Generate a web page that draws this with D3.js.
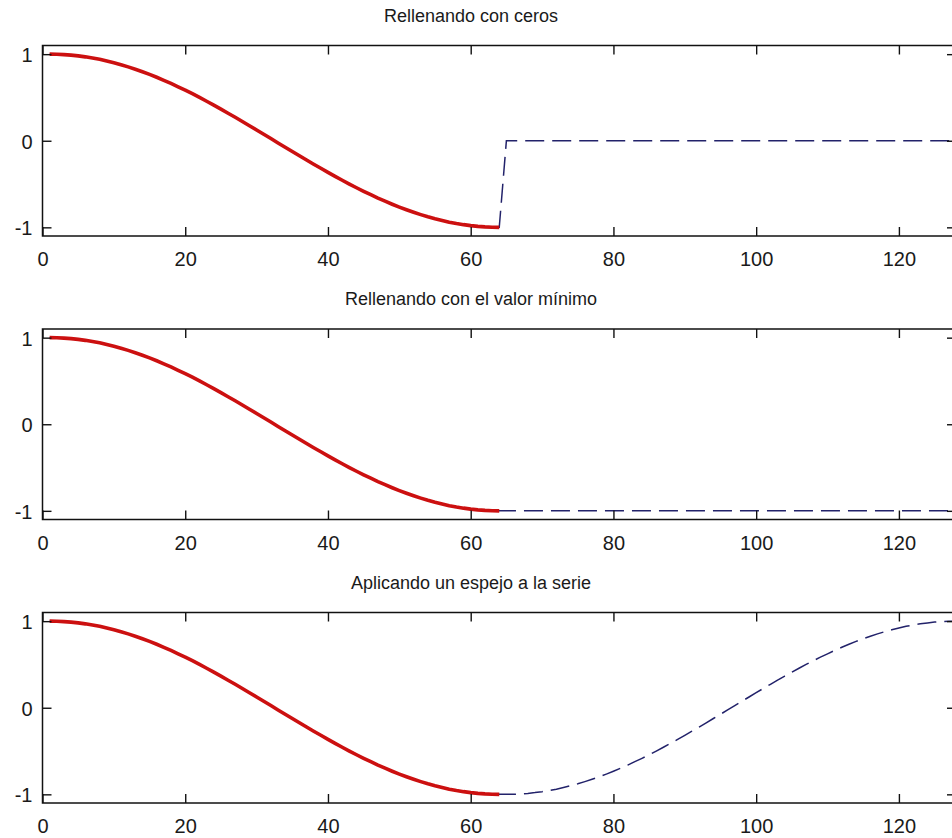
<!DOCTYPE html>
<html>
<head>
<meta charset="utf-8">
<script src="https://cdn.jsdelivr.net/npm/d3@7"></script>
<style>
  html, body { margin: 0; padding: 0; background: #fff; }
  svg { display: block; }
  .tick text { font-family: "Liberation Sans", Arial, sans-serif; font-size: 20px; fill: #1a1a1a; }
  .title { font-family: "Liberation Sans", Arial, sans-serif; font-size: 18px; fill: #1a1a1a; }
</style>
</head>
<body>
<svg id="chart" width="952" height="838"></svg>
<script>
// Original half-period cosine signal (64 samples)
const signal = [
  1.000, 0.999, 0.995, 0.989, 0.980, 0.969, 0.956, 0.940,
  0.921, 0.901, 0.878, 0.853, 0.826, 0.797, 0.766, 0.733,
  0.698, 0.662, 0.623, 0.584, 0.543, 0.500, 0.456, 0.411,
  0.365, 0.318, 0.271, 0.223, 0.174, 0.124, 0.075, 0.025,
  -0.025, -0.075, -0.124, -0.174, -0.223, -0.271, -0.318, -0.365,
  -0.411, -0.456, -0.500, -0.543, -0.584, -0.623, -0.662, -0.698,
  -0.733, -0.766, -0.797, -0.826, -0.853, -0.878, -0.901, -0.921,
  -0.940, -0.956, -0.969, -0.980, -0.989, -0.995, -0.999, -1.000
];

// Extension samples appended after the signal (64 each)
const padZeros = [
  0, 0, 0, 0, 0, 0, 0, 0, 0, 0, 0, 0, 0, 0, 0, 0,
  0, 0, 0, 0, 0, 0, 0, 0, 0, 0, 0, 0, 0, 0, 0, 0,
  0, 0, 0, 0, 0, 0, 0, 0, 0, 0, 0, 0, 0, 0, 0, 0,
  0, 0, 0, 0, 0, 0, 0, 0, 0, 0, 0, 0, 0, 0, 0, 0
];
const padMinimum = [
  -1, -1, -1, -1, -1, -1, -1, -1, -1, -1, -1, -1, -1, -1, -1, -1,
  -1, -1, -1, -1, -1, -1, -1, -1, -1, -1, -1, -1, -1, -1, -1, -1,
  -1, -1, -1, -1, -1, -1, -1, -1, -1, -1, -1, -1, -1, -1, -1, -1,
  -1, -1, -1, -1, -1, -1, -1, -1, -1, -1, -1, -1, -1, -1, -1, -1
];
const padMirror = [
  -1.000, -0.999, -0.995, -0.989, -0.980, -0.969, -0.956, -0.940,
  -0.921, -0.901, -0.878, -0.853, -0.826, -0.797, -0.766, -0.733,
  -0.698, -0.662, -0.623, -0.584, -0.543, -0.500, -0.456, -0.411,
  -0.365, -0.318, -0.271, -0.223, -0.174, -0.124, -0.075, -0.025,
  0.025, 0.075, 0.124, 0.174, 0.223, 0.271, 0.318, 0.365,
  0.411, 0.456, 0.500, 0.543, 0.584, 0.623, 0.662, 0.698,
  0.733, 0.766, 0.797, 0.826, 0.853, 0.878, 0.901, 0.921,
  0.940, 0.956, 0.969, 0.980, 0.989, 0.995, 0.999, 1.000
];

const titles = [
  "Rellenando con ceros",
  "Rellenando con el valor mínimo",
  "Aplicando un espejo a la serie"
];
const pads = [padZeros, padMinimum, padMirror];

const xTicks = [0, 20, 40, 60, 80, 100, 120];
const yTicks = [-1, 0, 1];

const svg = d3.select("#chart");

const xLeft = 42.5, xRight = 956;
const panelTops = [45.5, 329, 612.5];
const panelH = 190.5;

const x = d3.scaleLinear().domain([0, 128]).range([xLeft, xRight]);
const y = d3.scaleLinear().domain([-1.1, 1.1]).range([panelH, 0]);

// samples are indexed from 1
const toPoints = arr => arr.map((v, i) => ({ n: i + 1, v }));
const line = d3.line().x(d => x(d.n)).y(d => y(d.v));

// plain hyphen for negative tick labels
const fmt = d => String(d);

pads.forEach((pad, p) => {
  const g = svg.append("g").attr("transform", `translate(0,${panelTops[p]})`);

  // extended series (dashed) first, original signal on top
  g.append("path")
    .datum(toPoints(signal.concat(pad)))
    .attr("d", line)
    .attr("fill", "none")
    .attr("stroke", "#22226a")
    .attr("stroke-width", 1.5)
    .attr("stroke-dasharray", "19,8");

  g.append("path")
    .datum(toPoints(signal))
    .attr("d", line)
    .attr("fill", "none")
    .attr("stroke", "#cc1010")
    .attr("stroke-width", 3.6)
    .attr("stroke-linejoin", "round");

  // axes with inward ticks on all four sides
  const bottom = g.append("g")
    .attr("transform", `translate(0,${panelH})`)
    .call(d3.axisBottom(x).tickValues(xTicks).tickSizeInner(-9).tickSizeOuter(0).tickFormat(fmt));
  bottom.selectAll("text").attr("y", 30).attr("dy", 0);

  g.append("g")
    .call(d3.axisTop(x).tickValues(xTicks).tickSizeInner(-9).tickSizeOuter(0).tickFormat(""));

  const left = g.append("g")
    .attr("transform", `translate(${xLeft},0)`)
    .call(d3.axisLeft(y).tickValues(yTicks).tickSizeInner(-9).tickSizeOuter(0).tickFormat(fmt));
  left.selectAll("text").attr("x", -10).attr("dy", "0.38em");

  g.append("g")
    .attr("transform", `translate(${xRight},0)`)
    .call(d3.axisRight(y).tickValues(yTicks).tickSizeInner(-9).tickSizeOuter(0).tickFormat(""));

  g.selectAll(".domain").remove();
  g.selectAll(".tick line").attr("stroke", "#111").attr("stroke-width", 1.4);

  g.append("rect")
    .attr("x", xLeft).attr("y", 0)
    .attr("width", xRight - xLeft).attr("height", panelH)
    .attr("fill", "none").attr("stroke", "#111").attr("stroke-width", 1.5);

  g.append("text")
    .attr("class", "title")
    .attr("x", 471).attr("y", -24)
    .attr("text-anchor", "middle")
    .text(titles[p]);
});
</script>
</body>
</html>
